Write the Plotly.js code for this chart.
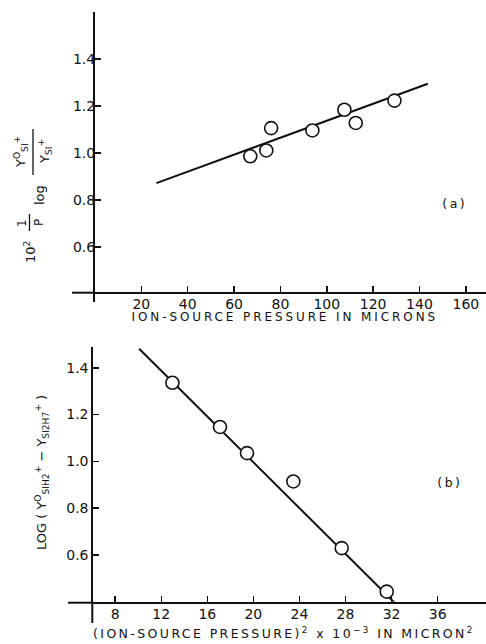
<!DOCTYPE html>
<html>
<head>
<meta charset="utf-8">
<script src="https://cdn.plot.ly/plotly-3.0.1.min.js"></script>
<style>
  html, body { margin: 0; padding: 0; background: #fff; }
  #chart { width: 486px; height: 644px; }
</style>
</head>
<body>
<div id="chart"></div>
<script>
// Panel (a): ion-source pressure (microns) vs 10^2 (1/P) log(Y0/Y)
const aPressure = [67.0, 73.9, 76.0, 93.8, 107.6, 112.5, 129.2];
const aValue    = [0.986, 1.011, 1.106, 1.096, 1.184, 1.128, 1.223];
const aFitX = [26.5, 143.6];
const aFitY = [0.872, 1.295];
const aXTicks = [20, 40, 60, 80, 100, 120, 140, 160];
const aYTicks = [0.6, 0.8, 1.0, 1.2, 1.4];
const aYTickText = ['0.6', '0.8', '1.0', '1.2', '1.4'];

// Panel (b): (ion-source pressure)^2 x 10^-3 vs LOG(Y0 SiH2+ - Y Si2H7+)
const bPressureSq = [12.97, 17.1, 19.45, 23.47, 27.67, 31.58];
const bValue      = [1.336, 1.147, 1.035, 0.914, 0.629, 0.443];
const bFitX = [10.08, 32.3];
const bFitY = [1.481, 0.394];
const bXTicks = [8, 12, 16, 20, 24, 28, 32, 36];
const bYTicks = [0.6, 0.8, 1.0, 1.2, 1.4];
const bYTickText = ['0.6', '0.8', '1.0', '1.2', '1.4'];

const W = 486, H = 644;
const px = v => v / W;          // pixel column -> paper x
const py = v => 1 - v / H;      // pixel row -> paper y

const FONT = 'DejaVu Sans, Liberation Sans, sans-serif';
const INK = '#111';

const fitLine = (x, y, xa, ya) => ({
  x: x, y: y, xaxis: xa, yaxis: ya, type: 'scatter', mode: 'lines',
  line: { color: INK, width: 2 }, hoverinfo: 'skip', showlegend: false
});
const points = (x, y, xa, ya) => ({
  x: x, y: y, xaxis: xa, yaxis: ya, type: 'scatter', mode: 'markers',
  marker: { symbol: 'circle', size: 13, color: '#fff', line: { color: INK, width: 1.6 } },
  cliponaxis: false, showlegend: false
});

const data = [
  fitLine(aFitX, aFitY, 'x', 'y'),
  points(aPressure, aValue, 'x', 'y'),
  fitLine(bFitX, bFitY, 'x2', 'y2'),
  points(bPressureSq, bValue, 'x2', 'y2')
];

const axisCommon = {
  showline: true, linecolor: INK, linewidth: 2,
  ticks: 'inside', ticklen: 6, tickwidth: 1.5, tickcolor: INK,
  showgrid: false, zeroline: false,
  tickfont: { family: FONT, size: 14, color: INK },
  fixedrange: true
};

const lineShape = (x0, y0, x1, y1, w) => ({
  type: 'line', xref: 'paper', yref: 'paper',
  x0: x0, y0: y0, x1: x1, y1: y1,
  line: { color: INK, width: w || 2 }
});

const note = (text, x, y, size, angle) => ({
  text: text, x: px(x), y: py(y), xref: 'paper', yref: 'paper',
  showarrow: false, xanchor: 'center', yanchor: 'middle',
  textangle: angle || 0,
  font: { family: FONT, size: size, color: INK }
});

const layout = {
  width: W, height: H,
  margin: { l: 0, r: 0, t: 0, b: 0 },
  paper_bgcolor: '#fff', plot_bgcolor: 'rgba(0,0,0,0)',
  showlegend: false,
  xaxis: Object.assign({}, axisCommon, {
    domain: [px(95), 1], range: [0, 168.7], anchor: 'y',
    tickvals: aXTicks, ticklabelstandoff: -2
  }),
  yaxis: Object.assign({}, axisCommon, {
    domain: [py(291.7), py(12)], range: [0.41, 1.6], anchor: 'x',
    tickvals: aYTicks, ticktext: aYTickText, ticklabelstandoff: -5
  }),
  xaxis2: Object.assign({}, axisCommon, {
    domain: [px(93.3), 1], range: [6.1, 40.2], anchor: 'y2',
    tickvals: bXTicks, ticklabelstandoff: -2
  }),
  yaxis2: Object.assign({}, axisCommon, {
    domain: [py(601.7), py(346.7)], range: [0.4, 1.49], anchor: 'x2',
    tickvals: bYTicks, ticktext: bYTickText
  }),
  shapes: [
    // axis lines running past the crossing point
    lineShape(px(72), py(292.7), px(95), py(292.7)),
    lineShape(px(94), py(291.7), px(94), py(302)),
    lineShape(px(68), py(602.7), px(93.3), py(602.7)),
    lineShape(px(92.3), py(601.7), px(92.3), py(623)),
    // fraction bars in the panel (a) axis title
    lineShape(px(29.5), py(214), px(29.5), py(231), 1.3),
    lineShape(px(33), py(129), px(33), py(175), 1.3)
  ],
  annotations: [
    note('ION-SOURCE PRESSURE IN MICRONS', 284.5, 317, 12),
    note('(ION-SOURCE PRESSURE)<sup>2</sup> x 10<sup>−3</sup> IN MICRON<sup>2</sup>', 284, 633, 12.5),
    note('(a)', 454, 203, 12.5),
    note('(b)', 450, 482, 12.5),
    note('10<sup>2</sup>', 30, 252, 13, -90),
    note('1', 22, 223, 12, -90),
    note('P', 39, 223, 12, -90),
    note('log', 39, 195, 13, -90),
    note('Y<sup>O</sup><sub>SI</sub><sup>+</sup>', 21, 152, 13, -90),
    note('Y<sub>SI</sub><sup>+</sup>', 45, 152, 13, -90),
    note('LOG ( Y<sup>O</sup><sub>SIH2</sub><sup>+</sup> − Y<sub>SI2H7</sub><sup>+</sup> )', 42, 473, 13, -90)
  ]
};

Plotly.newPlot('chart', data, layout, { staticPlot: true, displayModeBar: false }).then(() => {
  // wide lettering for the axis captions and panel tags
  const spaced = { 0: '2.9px', 1: '2.4px', 2: '2.5px', 3: '2.5px' };
  Object.keys(spaced).forEach(i => {
    document.querySelectorAll('.annotation[data-index="' + i + '"] text').forEach(t => {
      t.style.letterSpacing = spaced[i];
    });
  });
});
</script>
</body>
</html>
